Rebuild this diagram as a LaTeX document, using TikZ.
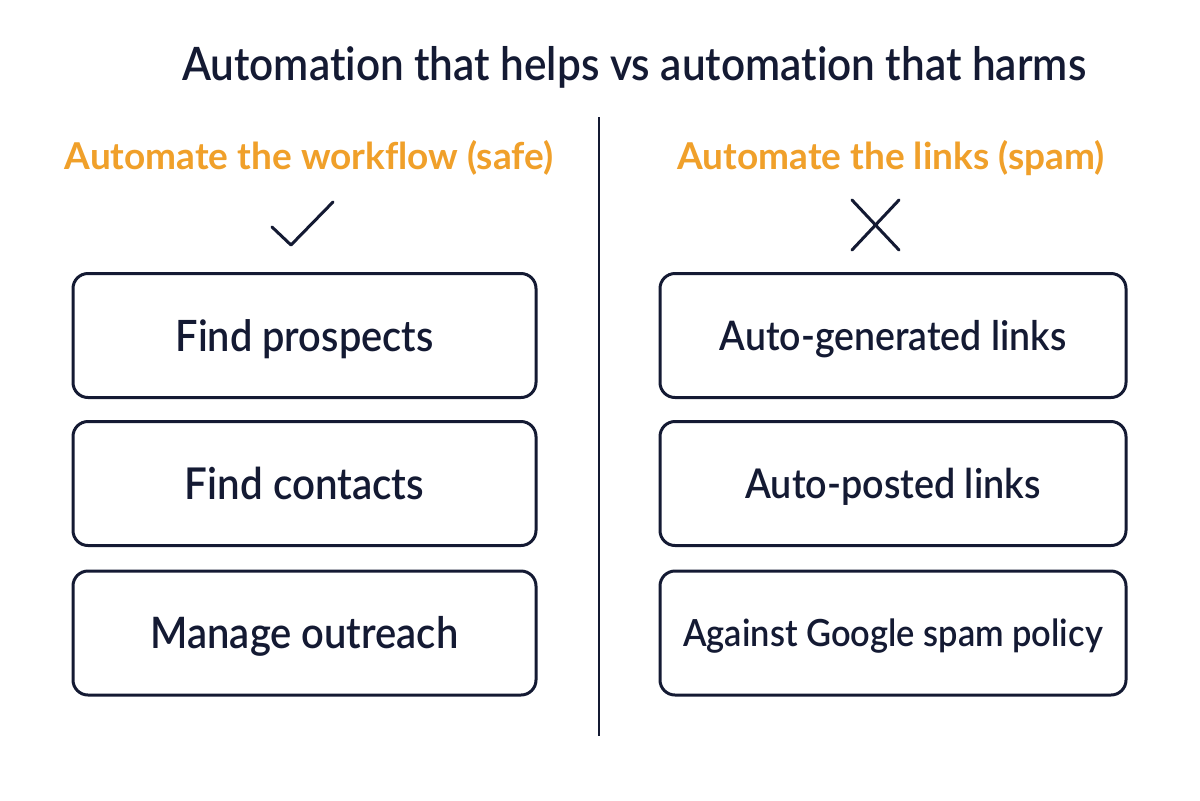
\documentclass[tikz,border=0pt]{standalone}
\usepackage{fontspec}
\newfontfamily\bodyfont{Lato}[BoldFont=Lato Semibold, Ligatures=NoCommon, FakeStretch=0.92]
\newfontfamily\headfont{Lato}[BoldFont=Lato Bold, Ligatures=NoCommon]
\definecolor{navy}{HTML}{141A33}
\definecolor{amber}{HTML}{F0A02A}
\begin{document}
\begin{tikzpicture}[x=0.5pt,y=-0.5pt,
  card/.style={draw=navy, line width=1.5pt, rounded corners=7.5pt, minimum height=62pt, inner sep=0pt, text depth=0pt, font=\bodyfont\bfseries\fontsize{#1}{#1}\selectfont, text=navy},
  headtxt/.style={text=amber, font=\headfont\bfseries\fontsize{18.5}{20}\selectfont, inner sep=0pt, text height=13.2pt, text depth=0pt},
  glyphline/.style={draw=navy, line width=1.5pt, line cap=round, line join=round}]
\useasboundingbox (0,0) rectangle (1200,800);
\fill[white] (0,0) rectangle (1200,800);
\node[text=navy, font=\bodyfont\bfseries\fontsize{23}{26}\selectfont, inner sep=0pt, text height=16.5pt, text depth=0pt] (title) at (634,64) {Automation that helps vs automation that harms};
\coordinate (dtop) at (599,117);
\coordinate (dbot) at (599,736);
\draw[navy, line width=1.3pt] (dtop) -- (dbot);
\node[headtxt] (hl) at (309,156) {Automate the workflow (safe)};
\node[headtxt] (hr) at (891,156) {Automate the links (spam)};
\coordinate (c1) at (272,227);
\coordinate (c2) at (291,245);
\coordinate (c3) at (333,202);
\draw[glyphline] (c1) -- (c2) -- (c3);
\coordinate (x1) at (852,200);
\coordinate (x2) at (899,250);
\coordinate (x3) at (899,200);
\coordinate (x4) at (852,250);
\draw[glyphline] (x1) -- (x2) (x3) -- (x4);
\node[card=21.6, text height=15.5pt, minimum width=231.5pt] (l1) at (304.5,335.5) {Find prospects};
\node[card=21.9, text height=15.7pt, minimum width=231.5pt] (l2) at (304.5,483.5) {Find contacts};
\node[card=21.7, text height=15.5pt, minimum width=231.5pt] (l3) at (304.5,633) {Manage outreach};
\node[card=20.35, text height=14.6pt, minimum width=233pt] (r1) at (893,335.5) {Auto-generated links};
\node[card=20.5, text height=14.7pt, minimum width=233pt] (r2) at (893,483.5) {Auto-posted links};
\node[card=18.7, text height=13.4pt, minimum width=233pt] (r3) at (893,633) {Against Google spam policy};
\end{tikzpicture}
\end{document}
